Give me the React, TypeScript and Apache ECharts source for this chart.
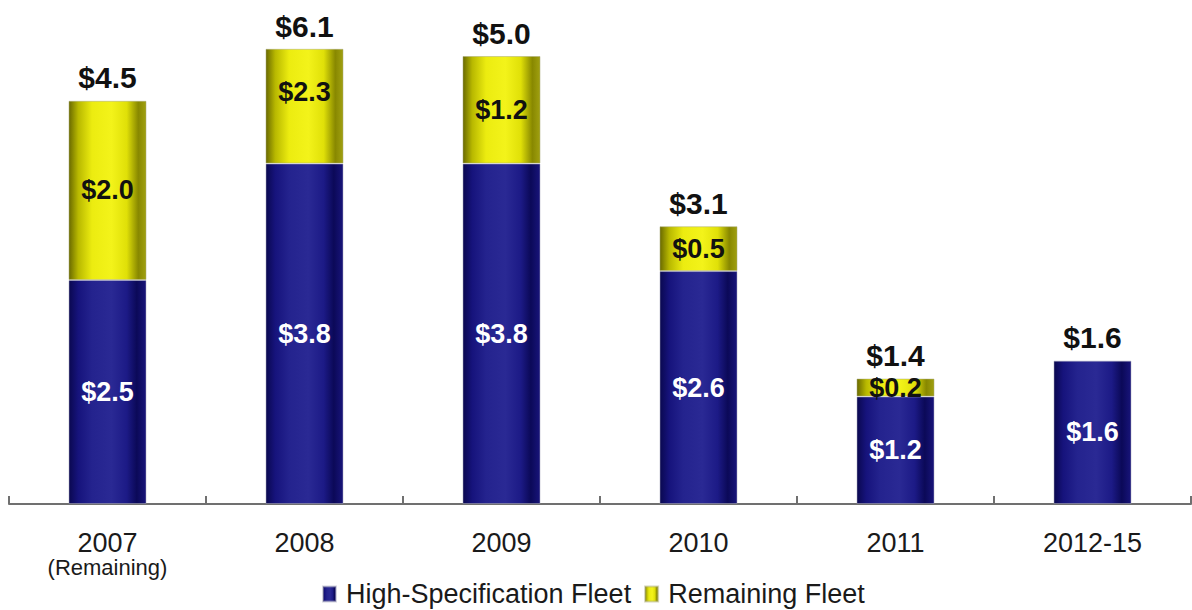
import React, { useEffect, useRef } from "react";
import * as echarts from "echarts";

const categories = ["2007", "2008", "2009", "2010", "2011", "2012-15"];
const subLabels: Record<string, string> = { "2007": "(Remaining)" };
const highSpecFleet = [2.5, 3.8, 3.8, 2.6, 1.2, 1.6];
const remainingFleet: (number | null)[] = [2.0, 2.3, 1.2, 0.5, 0.2, null];
const totals = [4.5, 6.1, 5.0, 3.1, 1.4, 1.6];
const seriesNames = ["High-Specification Fleet", "Remaining Fleet"];

const Y_MAX = 5.075;
const FONT = "'Liberation Sans', Arial, Helvetica, sans-serif";

const fmt = (v: number) => "$" + v.toFixed(1);

const blueGrad = new echarts.graphic.LinearGradient(0, 0, 1, 0, [
  { offset: 0, color: "#0a0850" },
  { offset: 0.12, color: "#16137c" },
  { offset: 0.3, color: "#24238e" },
  { offset: 0.55, color: "#2a2994" },
  { offset: 0.75, color: "#1c1a86" },
  { offset: 0.88, color: "#0b0958" },
  { offset: 1, color: "#18147a" },
]);
const yellowGrad = new echarts.graphic.LinearGradient(0, 0, 1, 0, [
  { offset: 0, color: "#6a6a00" },
  { offset: 0.12, color: "#b8b800" },
  { offset: 0.3, color: "#ecec10" },
  { offset: 0.55, color: "#f3f31a" },
  { offset: 0.75, color: "#e0e008" },
  { offset: 0.9, color: "#888800" },
  { offset: 1, color: "#a0a010" },
]);

export default function App() {
  const ref = useRef<HTMLDivElement>(null);
  useEffect(() => {
    if (!ref.current) return;
    const chart = echarts.init(ref.current, null, { renderer: "svg" });
    chart.setOption({
      animation: false,
      backgroundColor: "#ffffff",
      grid: { left: 9, right: 1, top: 49.3, bottom: 106, containLabel: false },
      legend: {
        data: seriesNames,
        left: 322,
        top: 580,
        padding: 0,
        itemWidth: 13,
        itemHeight: 15,
        itemGap: 13,
        icon: "rect",
        textStyle: {
          fontSize: 27,
          lineHeight: 28,
          color: "#1a1a1a",
          fontFamily: FONT,
          padding: [0, 0, 0, 5],
        },
      },
      xAxis: {
        type: "category",
        data: categories,
        boundaryGap: true,
        axisLine: { show: true, lineStyle: { color: "#707070", width: 2 } },
        axisTick: {
          show: true,
          inside: true,
          length: 8,
          interval: 0,
          lineStyle: { color: "#707070", width: 2 },
        },
        axisLabel: {
          interval: 0,
          margin: 25,
          color: "#1a1a1a",
          fontFamily: FONT,
          fontSize: 27,
          lineHeight: 27,
          formatter: (v: string) =>
            subLabels[v] ? `{a|${v}}\n{b|${subLabels[v]}}` : `{a|${v}}`,
          rich: {
            a: { fontSize: 27, lineHeight: 27, fontFamily: FONT, color: "#1a1a1a" },
            b: { fontSize: 22, lineHeight: 23, fontFamily: FONT, color: "#1a1a1a" },
          },
        },
      },
      yAxis: {
        type: "value",
        min: 0,
        max: Y_MAX,
        show: false,
        splitLine: { show: false },
      },
      series: [
        {
          name: seriesNames[0],
          type: "bar",
          stack: "fleet",
          barWidth: 78,
          clip: true,
          data: highSpecFleet,
          itemStyle: { color: blueGrad, borderColor: "rgba(170,170,190,0.5)", borderWidth: 1 },
          label: {
            show: true,
            position: "inside",
            color: "#ffffff",
            fontSize: 27,
            fontWeight: "bold",
            fontFamily: FONT,
            formatter: (p: any) => fmt(p.value),
          },
        },
        {
          name: seriesNames[1],
          type: "bar",
          stack: "fleet",
          barWidth: 78,
          clip: true,
          data: remainingFleet.map((v, i) =>
            i === 1 && v != null ? { value: v, label: { offset: [0, -14] } } : v
          ),
          itemStyle: { color: yellowGrad, borderColor: "rgba(170,170,120,0.5)", borderWidth: 1 },
          label: {
            show: true,
            position: "inside",
            color: "#111111",
            fontSize: 27,
            fontWeight: "bold",
            fontFamily: FONT,
            formatter: (p: any) => (p.value == null ? "" : fmt(p.value)),
          },
        },
        {
          name: "Total",
          type: "scatter",
          clip: false,
          symbol: "rect",
          symbolSize: 0.01,
          itemStyle: { color: "#000000", opacity: 1 },
          data: totals.map((t) => Math.min(t, Y_MAX)),
          label: {
            show: true,
            position: "top",
            distance: 8,
            color: "#111111",
            opacity: 1,
            fontSize: 30,
            fontWeight: "bold",
            fontFamily: FONT,
            formatter: (p: any) => fmt(totals[p.dataIndex]),
          },
          emphasis: { disabled: true },
          z: 5,
        },
      ],
    });
    return () => chart.dispose();
  }, []);
  return (
    <div
      ref={ref}
      style={{ position: "absolute", left: 0, top: 0, width: 1192, height: 610 }}
    />
  );
}
